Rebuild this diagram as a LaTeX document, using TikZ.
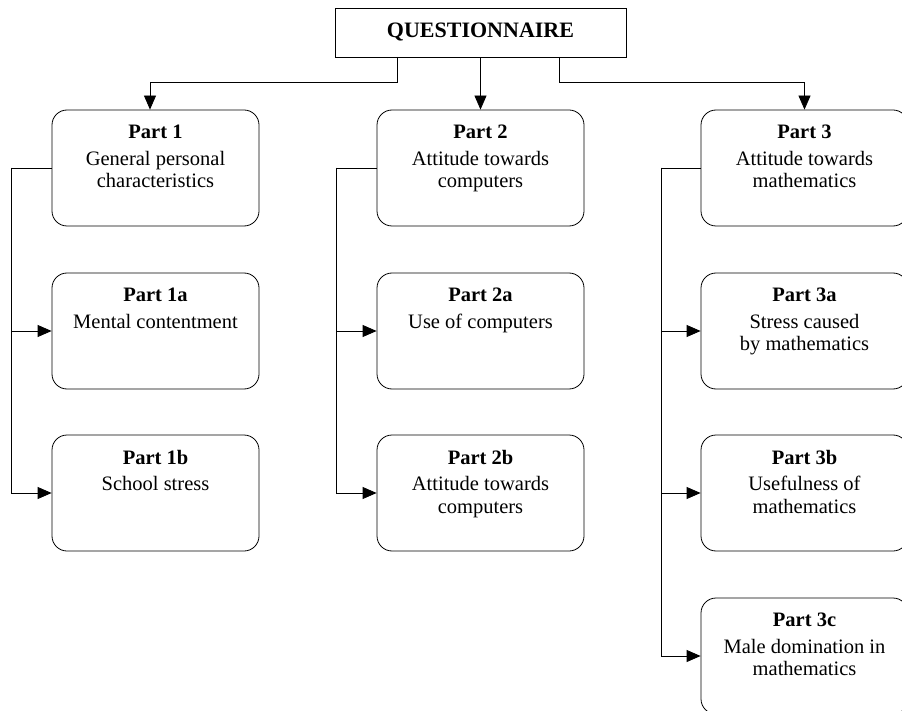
\documentclass[tikz,border=0pt]{standalone}
\usepackage{fontspec}
\setmainfont{Liberation Serif}
\usetikzlibrary{arrows.meta}

\tikzset{
    partbox/.style={draw, rounded corners=15pt, line width=.8pt, inner sep=0pt,
        minimum width=207pt, minimum height=116pt},
    topbox/.style={draw, line width=.8pt, inner sep=0pt, minimum width=291pt, minimum height=49pt},
    link/.style={line width=.8pt}
}
\newcommand{\parttext}[2]{\parbox[c][112pt][t]{204pt}{\centering\fontsize{20.5}{22.5}\selectfont
    \vspace{13pt}\textbf{#1}\\[4pt]#2}}

\begin{document}
\begin{tikzpicture}[x=1pt, y=-1pt, >={Triangle[length=14pt,width=12pt]}]
\useasboundingbox (0,0) rectangle (902,711);
\clip (0,0) rectangle (902,711);

\node[topbox] (q) at (480.5,32.5) {\fontsize{22}{24}\selectfont\textbf{QUESTIONNAIRE}};

% column 1
\node[partbox] (p1) at (155.5,168) {\parttext{Part 1}{General personal\\characteristics}};
\node[partbox] (p1a) at (155.5,331) {\parttext{Part 1a}{Mental contentment}};
\node[partbox] (p1b) at (155.5,493) {\parttext{Part 1b}{School stress}};

% column 2
\node[partbox] (p2) at (480.5,168) {\parttext{Part 2}{Attitude towards\\computers}};
\node[partbox] (p2a) at (480.5,331) {\parttext{Part 2a}{Use of computers}};
\node[partbox] (p2b) at (480.5,493) {\parttext{Part 2b}{Attitude towards\\computers}};

% column 3
\node[partbox] (p3) at (804.5,168) {\parttext{Part 3}{Attitude towards\\mathematics}};
\node[partbox] (p3a) at (804.5,331) {\parttext{Part 3a}{Stress caused\\by mathematics}};
\node[partbox] (p3b) at (804.5,493) {\parttext{Part 3b}{Usefulness of\\mathematics}};
\node[partbox] (p3c) at (804.5,656) {\parttext{Part 3c}{Male domination in\\mathematics}};

% from the questionnaire
\coordinate (qleft) at (397,57);
\coordinate (qright) at (559,57);
\draw[link, ->] (qleft) |- (150,82) -- (p1.north -| 150,0);
\draw[link, ->] (q.south) -- (p2.north);
\draw[link, ->] (qright) |- (804.5,82) -- (p3.north);

% rails
\foreach \col/\railx in {1/11, 2/336, 3/661}
{
    \draw[link] (p\col.west) -- (\railx,168);
}
\draw[link, ->] (11,168) |- (p1a.west);
\draw[link, ->] (11,168) |- (p1b.west);
\draw[link, ->] (336,168) |- (p2a.west);
\draw[link, ->] (336,168) |- (p2b.west);
\draw[link, ->] (661,168) |- (p3a.west);
\draw[link, ->] (661,168) |- (p3b.west);
\draw[link, ->] (661,168) |- (p3c.west);

\end{tikzpicture}
\end{document}
